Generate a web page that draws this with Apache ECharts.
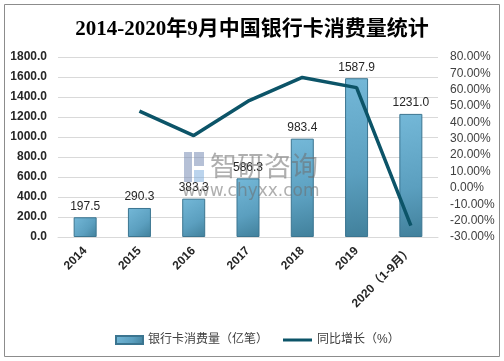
<!DOCTYPE html>
<html>
<head>
<meta charset="utf-8">
<script src="https://cdn.jsdelivr.net/npm/echarts@6/dist/echarts.min.js"></script>
<style>html,body{margin:0;padding:0;background:#fff;}#c{width:504px;height:361px;}</style>
</head>
<body>
<div id="c"></div>
<script>
const categories = ['2014', '2015', '2016', '2017', '2018', '2019', '2020（1-9月）'];
const consumption = [197.5, 290.3, 383.3, 586.3, 983.4, 1587.9, 1231.0];
const growth = [null, 46.9, 32.0, 53.0, 67.5, 61.3, -23.0];
const leftTicks = { min: 0, max: 1800, interval: 200 };
const rightTicks = { min: -30, max: 80, interval: 10 };
const barName = '银行卡消费量（亿笔）';
const lineName = '同比增长（%）';
const titleText = '2014-2020年9月中国银行卡消费量统计';

const font = "'Liberation Sans','Noto Sans CJK SC',sans-serif";
const chart = echarts.init(document.getElementById('c'), null, { renderer: 'canvas' });
chart.setOption({
  animation: false,
  backgroundColor: '#fff',
  title: {
    text: titleText, left: 'center', top: 14,
    textStyle: { fontFamily: "'Liberation Serif','Noto Sans CJK SC',serif", fontSize: 21, fontWeight: 'bold', color: '#000' }
  },
  grid: { left: 58, right: 66, top: 57, bottom: 124, containLabel: false },
  legend: [
    {
      top: 329, left: 110, itemWidth: 27, itemHeight: 8, itemGap: 4,
      textStyle: { fontFamily: font, fontSize: 12, color: '#404040' },
      data: [{ name: barName, icon: 'rect' }]
    },
    {
      top: 329, left: 278, itemWidth: 29, itemHeight: 8,
      textStyle: { fontFamily: font, fontSize: 12, color: '#404040' },
      data: [{ name: lineName, icon: 'path://M0,-4 M0,-1.5 L29,-1.5 L29,1.5 L0,1.5 Z M29,4', itemStyle: { color: '#0c5468' } }]
    }
  ],
  xAxis: {
    type: 'category', data: categories,
    axisLine: { show: true, lineStyle: { color: '#d9d9d9' } },
    axisTick: { show: false },
    axisLabel: { rotate: 45, margin: 12, interval: 0, fontFamily: font, fontSize: 12, fontWeight: 'bold', color: '#262626' }
  },
  yAxis: [
    {
      type: 'value', min: leftTicks.min, max: leftTicks.max, interval: leftTicks.interval,
      axisLine: { show: false }, axisTick: { show: false },
      splitLine: { lineStyle: { color: '#d9d9d9' } },
      axisLabel: { margin: 11, fontFamily: font, fontSize: 12, fontWeight: 'bold', color: '#262626', formatter: v => v.toFixed(1) }
    },
    {
      type: 'value', min: rightTicks.min, max: rightTicks.max, interval: rightTicks.interval,
      axisLine: { show: false }, axisTick: { show: false }, splitLine: { show: false },
      axisLabel: { margin: 12, fontFamily: font, fontSize: 12, color: '#404040', formatter: v => v.toFixed(2) + '%' }
    }
  ],
  series: [
    {
      name: barName, type: 'bar', data: consumption, barWidth: 23, yAxisIndex: 0,
      itemStyle: {
        color: new echarts.graphic.LinearGradient(0, 0, 1, 1, [
          { offset: 0, color: '#74b8d8' }, { offset: 0.6, color: '#5b9fbf' }, { offset: 1, color: '#41809b' }
        ]),
        borderColor: '#3b7590', borderWidth: 1
      },
      label: { show: true, position: 'top', distance: 5, fontFamily: font, fontSize: 12, color: '#262626', formatter: p => p.value.toFixed(1) }
    },
    {
      name: lineName, type: 'line', data: growth, yAxisIndex: 1, symbol: 'none', smooth: false,
      lineStyle: { color: '#0c5468', width: 3.5 }, itemStyle: { color: '#0c5468' }
    }
  ],
  graphic: [
    { type: 'rect', shape: { x: 4.5, y: 4.5, width: 495, height: 352 }, style: { fill: 'none', stroke: '#8c8c8c', lineWidth: 1 }, silent: true },
    { type: 'text', left: 210, top: 152, style: { text: '智研咨询', fontFamily: "'Noto Sans CJK SC',sans-serif", fontSize: 27, fill: 'rgba(110,110,110,0.55)' }, z: 100 },
    { type: 'text', left: 182, top: 183, style: { text: 'www.chyxx.com', fontFamily: "'DejaVu Sans',sans-serif", fontSize: 17, fill: 'rgba(110,110,110,0.55)' }, z: 100 },
    { type: 'rect', shape: { x: 184, y: 152, width: 8, height: 30 }, style: { fill: 'rgba(120,140,180,0.55)' }, z: 100 },
    { type: 'rect', shape: { x: 194, y: 152, width: 10, height: 14 }, style: { fill: 'rgba(120,140,180,0.55)' }, z: 100 },
    { type: 'rect', shape: { x: 194, y: 170, width: 10, height: 12 }, style: { fill: 'rgba(120,170,220,0.5)' }, z: 100 }
  ]
});
</script>
</body>
</html>
